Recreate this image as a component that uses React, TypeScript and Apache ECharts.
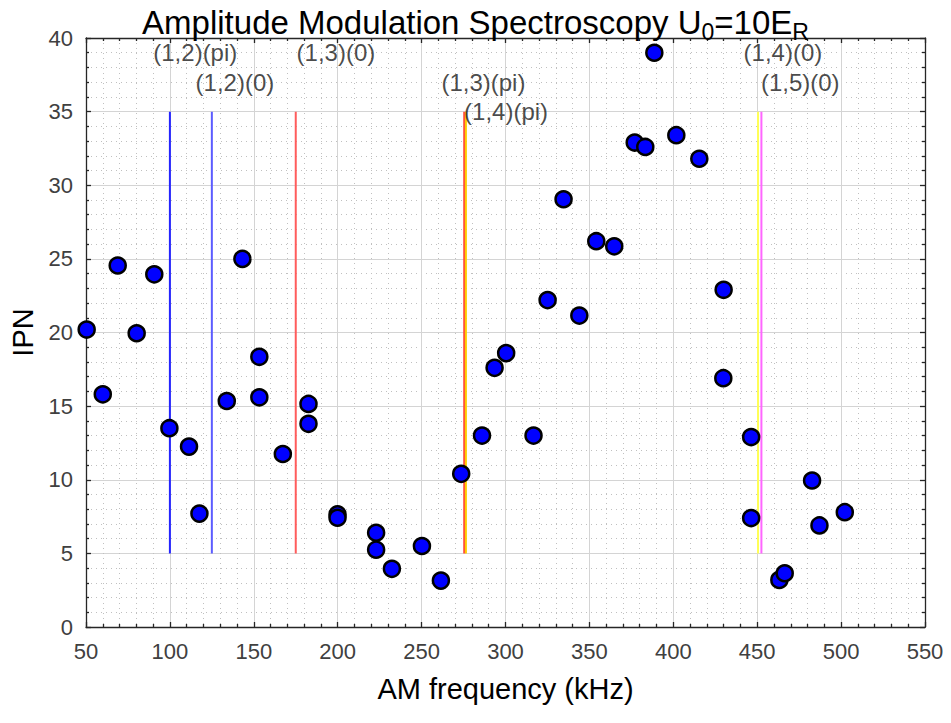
import React, { useEffect, useRef } from "react";
import * as echarts from "echarts";

// Measured data points (AM frequency in kHz, IPN)
const freqKHz = [
  50.4, 60.0, 68.9, 80.2, 90.7, 99.7, 111.4, 117.6, 133.9, 143.2,
  153.3, 153.3, 167.3, 182.6, 182.6, 199.9, 199.9, 222.9, 222.9, 232.3,
  250.2, 261.5, 273.6, 286.0, 293.5, 300.4, 316.7, 325.1, 334.6, 344.0,
  354.1, 364.8, 377.0, 383.3, 388.7, 401.8, 415.5, 430.0, 429.8, 446.4,
  446.4, 463.2, 466.4, 482.7, 487.1, 502.2,
];
const ipn = [
  20.2, 15.8, 24.55, 19.95, 23.95, 13.5, 12.25, 7.7, 15.35, 25.0,
  18.35, 15.6, 11.75, 15.15, 13.8, 7.65, 7.42, 6.4, 5.25, 3.95,
  5.5, 3.15, 10.4, 13.0, 17.6, 18.6, 13.0, 22.2, 29.05, 21.15,
  26.2, 25.85, 32.9, 32.6, 39.0, 33.4, 31.8, 22.9, 16.9, 12.9,
  7.4, 3.2, 3.65, 9.95, 6.9, 7.8,
];

// Resonance markers
const resonanceNames = ["(1,2)(pi)", "(1,2)(0)", "(1,3)(0)", "(1,3)(pi)", "(1,4)(pi)", "(1,4)(0)", "(1,5)(0)"];
const resonanceFreq = [100, 125, 175, 275.4, 276.4, 450.5, 452.5];
const resonanceColors = ["#2424ff", "#5c5cff", "#ff5c5c", "#ff4a3a", "#ffcc00", "#ffff55", "#ff66ff"];
const resonanceRange = [5, 35];
const labelX = [89.8, 115, 175.2, 261.5, 275, 441.6, 451.9];
const labelY = [39.0, 37.0, 39.0, 37.0, 35.0, 39.0, 37.0];

// Axes
const xMin = 50, xMax = 550, xStep = 50;
const yMin = 0, yMax = 40, yStep = 5;

const FONT = "Liberation Sans, Arial, sans-serif";

export default function App() {
  const ref = useRef<HTMLDivElement>(null);
  useEffect(() => {
    if (!ref.current) return;
    const chart = echarts.init(ref.current, undefined, { renderer: "svg" });
    const axisLineStyle = { color: "#262626", width: 1.3 };
    const lineSeries = resonanceFreq.map((f, i) => ({
      type: "line",
      name: resonanceNames[i],
      data: [[f, resonanceRange[0]], [f, resonanceRange[1]]],
      symbol: "none",
      lineStyle: { color: resonanceColors[i], width: 2 },
      z: 3,
      silent: true,
    }));
    chart.setOption({
      animation: false,
      backgroundColor: "#ffffff",
      textStyle: { fontFamily: FONT },
      title: {
        text: "{m|Amplitude Modulation Spectroscopy U}{s|0}{m|=10E}{s|R}",
        left: "center",
        top: 0,
        textStyle: {
          fontFamily: FONT,
          fontSize: 32,
          fontWeight: "normal",
          color: "#000",
          rich: {
            m: { fontSize: 33, fontFamily: FONT, color: "#000", lineHeight: 34, verticalAlign: "bottom" },
            s: { fontSize: 23, fontFamily: FONT, color: "#000", lineHeight: 15, verticalAlign: "bottom", padding: [0, 0, -4, 0] },
          },
        },
      },
      grid: { left: 86, right: 26, top: 38, bottom: 96, containLabel: false },
      xAxis: [
        {
          type: "value",
          min: xMin,
          max: xMax,
          interval: xStep,
          name: "AM frequency (kHz)",
          nameLocation: "middle",
          nameGap: 47,
          nameTextStyle: { fontSize: 29, color: "#000", fontFamily: FONT },
          axisLine: { show: true, onZero: false, lineStyle: axisLineStyle },
          axisTick: { show: true, inside: true, length: 5, lineStyle: axisLineStyle },
          minorTick: { show: true, splitNumber: 5, length: 3, lineStyle: axisLineStyle },
          axisLabel: { fontSize: 22, color: "#404040", margin: 13, fontFamily: FONT },
          splitLine: { show: true, lineStyle: { color: "#d4d4d4", width: 1 } },
          minorSplitLine: { show: true, lineStyle: { color: "#c0c0c0", width: 1, type: [1, 4] } },
        },
        {
          type: "value",
          position: "top",
          min: xMin,
          max: xMax,
          interval: xStep,
          axisLine: { show: true, onZero: false, lineStyle: axisLineStyle },
          axisTick: { show: true, inside: true, length: 5, lineStyle: axisLineStyle },
          minorTick: { show: true, splitNumber: 5, length: 3, lineStyle: axisLineStyle },
          axisLabel: { show: false },
          splitLine: { show: false },
        },
      ],
      yAxis: [
        {
          type: "value",
          min: yMin,
          max: yMax,
          interval: yStep,
          name: "IPN",
          nameLocation: "middle",
          nameGap: 46,
          nameTextStyle: { fontSize: 29, color: "#000", fontFamily: FONT },
          axisLine: { show: true, onZero: false, lineStyle: axisLineStyle },
          axisTick: { show: true, inside: true, length: 5, lineStyle: axisLineStyle },
          minorTick: { show: true, splitNumber: 5, length: 3, lineStyle: axisLineStyle },
          axisLabel: { fontSize: 22, color: "#404040", margin: 13, fontFamily: FONT },
          splitLine: { show: true, lineStyle: { color: "#d4d4d4", width: 1 } },
          minorSplitLine: { show: true, lineStyle: { color: "#c0c0c0", width: 1, type: [1, 4] } },
        },
        {
          type: "value",
          position: "right",
          min: yMin,
          max: yMax,
          interval: yStep,
          axisLine: { show: true, onZero: false, lineStyle: axisLineStyle },
          axisTick: { show: true, inside: true, length: 5, lineStyle: axisLineStyle },
          minorTick: { show: true, splitNumber: 5, length: 3, lineStyle: axisLineStyle },
          axisLabel: { show: false },
          splitLine: { show: false },
        },
      ],
      series: [
        ...lineSeries,
        {
          type: "scatter",
          name: "labels",
          data: resonanceNames.map((n, i) => [labelX[i], labelY[i], n]),
          symbolSize: 1,
          itemStyle: { color: "rgba(0,0,0,0)" },
          label: {
            show: true,
            position: "right",
            distance: 0,
            formatter: (p: any) => p.value[2],
            fontSize: 24,
            color: "#1a1a1a",
            textBorderWidth: 0,
            fontFamily: FONT,
          },
          z: 4,
          silent: true,
        },
        {
          type: "scatter",
          name: "IPN",
          data: freqKHz.map((f, i) => [f, ipn[i]]),
          symbol: "circle",
          symbolSize: 16,
          itemStyle: { color: "#0000ff", borderColor: "#000", borderWidth: 2.5, opacity: 1 },
          z: 5,
        },
      ],
    });
    return () => chart.dispose();
  }, []);
  return (
    <div
      ref={ref}
      style={{ position: "absolute", left: 0, top: 0, width: 951, height: 723, background: "#fff" }}
    />
  );
}
